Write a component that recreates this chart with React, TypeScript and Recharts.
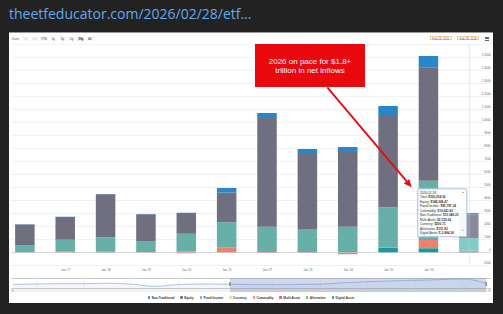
import { Area, AreaChart, Bar, BarChart, CartesianGrid, Cell, ReferenceLine, Tooltip, XAxis, YAxis } from 'recharts';

// yearly net flows, $ millions (2026 = YTD)
const periods = [
  '2015-12-31', '2016-12-31', '2017-12-31', '2018-12-31', '2019-12-31', '2020-12-31',
  '2021-12-31', '2022-12-31', '2023-12-31', '2024-12-31', '2025-12-31', '2026-02-28',
];
const xTickLabels = ["Jan '17", "Jan '18", "Jan '19", "Jan '20", "Jan '21", "Jan '22", "Jan '23", "Jan '24", "Jan '25", "Jan '26"];

const nonTraditional = [2000, 2000, 2000, 2000, 2000, 35000, 38000, 30000, 39000, 69000, 90000, 10548.2];
const equity = [161000, 175000, 331000, 206000, 160000, 229000, 836000, 585000, 574000, 710000, 868000, 184268.47];
const fixedIncome = [52000, 88000, 112000, 85000, 135000, 192000, 195000, 178000, 198000, 310000, 456000, 95797.34];
const currency = [0, 0, 0, 0, 0, 0, 0, 0, 0, 0, 0, 200.71];
const commodity = [0, 10000, 0, 3000, 9000, 40000, 3000, 2000, -14000, 2000, 61000, 10641.82];
const multiAsset = [2000, 0, 3000, 0, -6000, 0, -4000, -3000, 0, 0, 0, 2530.54];
const alternative = [0, 0, 2000, 0, 0, 0, 0, 0, 0, 0, 3000, 151.82];
const digitalAsset = [0, 0, 0, 0, 0, 0, 0, 0, 0, 35000, 32000, -3884.34];

const yTicks = [
  -100000, 0, 100000, 200000, 300000, 400000, 500000, 600000, 700000, 800000,
  900000, 1000000, 1100000, 1200000, 1300000, 1400000, 1500000, 1600000,
];

// navigator strip (relative level)
const navigatorValues = [4.6, 5.0, 5.3, 5.3, 5.8, 4.8, 2.6, 4.5, 5.0, 4.8, 4.6, 4.6, 4.6, 4.8, 6.3, 7.3, 8.1, 8.7, 9.3, 10.0, 6.0];
const navigatorTicks = [1, 3, 5, 7, 9, 11, 13, 15, 17, 19];
const navigatorTickLabels = ["Jan '08", "Jan '10", "Jan '12", "Jan '14", "Jan '16", "Jan '18", "Jan '20", "Jan '22", "Jan '24", "Jan '26"];

const rangeButtons = ['1m', '3m', 'YTD', '1y', '3y', '5y', '10y', 'All'];

const series = [
  { key: 'nonTraditional', name: 'Non-Traditional', values: nonTraditional, color: '#2b86c8', hover: '#3f9be0' },
  { key: 'equity', name: 'Equity', values: equity, color: '#6f6f80', hover: '#8a8a9c' },
  { key: 'fixedIncome', name: 'Fixed Income', values: fixedIncome, color: '#66b0a8', hover: '#80ccc7' },
  { key: 'currency', name: 'Currency', values: currency, color: '#f3e16b', hover: '#f7ea8c' },
  { key: 'commodity', name: 'Commodity', values: commodity, color: '#ef8170', hover: '#f49585' },
  { key: 'multiAsset', name: 'Multi-Asset', values: multiAsset, color: '#d9529a', hover: '#e36eac' },
  { key: 'alternative', name: 'Alternative', values: alternative, color: '#58c85a', hover: '#70d872' },
  { key: 'digitalAsset', name: 'Digital Asset', values: digitalAsset, color: '#1f95a5', hover: '#35aab9' },
];

const rows = periods.map((period, i) => {
  const row: Record<string, any> = { idx: i, period };
  series.forEach((s) => { row[s.key] = s.values[i]; });
  return row;
});
const navRows = navigatorValues.map((v, i) => ({ i, v }));

const FONT = '"Liberation Sans", Arial, Helvetica, sans-serif';
const hoverIndex = 11;

function money(v: number) {
  return '$' + v.toLocaleString('en-US', { minimumFractionDigits: 2, maximumFractionDigits: 2 });
}

function yLabel(v: number) {
  if (v === 0) return '0';
  return (v / 1000).toLocaleString('en-US') + 'k';
}

function YTick({ y, payload }: any) {
  if (payload.value === 1600000) return <g />;
  return (
    <text x={479.5} y={y - 2.2} textAnchor="end" dominantBaseline="central" fontSize={2.9} fill="#666" fontFamily={FONT}>
      {yLabel(payload.value)}
    </text>
  );
}

function XTick({ x, payload }: any) {
  return (
    <text x={x} y={230} textAnchor="middle" dominantBaseline="central" fontSize={2.9} fill="#666" fontFamily={FONT}>
      {xTickLabels[payload.value - 1]}
    </text>
  );
}

function NavTick({ x, payload }: any) {
  const k = navigatorTicks.indexOf(payload.value);
  return (
    <text x={x + 1.2} y={6.7} textAnchor="start" dominantBaseline="central" fontSize={2.8} fill="#999" fontFamily={FONT}>
      {navigatorTickLabels[k]}
    </text>
  );
}

function TipBox({ active, payload }: any) {
  if (!active || !payload || !payload.length) return null;
  const row = payload[0].payload;
  const items = series
    .map((s) => ({ name: s.name, value: row[s.key] as number }))
    .sort((a, b) => b.value - a.value);
  const total = items.reduce((t, it) => t + it.value, 0);
  return (
    <div
      style={{
        position: 'relative', width: 50, height: 49.4, boxSizing: 'border-box',
        background: 'rgba(255,255,255,0.93)', border: '0.5px solid #a7c3e2', borderRadius: 1,
        fontFamily: FONT, fontSize: 3.1, lineHeight: '4.5px', color: '#333', padding: '1.7px 0 0 1.8px',
        whiteSpace: 'nowrap',
      }}
    >
      <div>{row.period}</div>
      <div>Total: <b>{money(total)}</b></div>
      {items.map((it) => (
        <div key={it.name}>{it.name}: <b>{money(it.value)}</b></div>
      ))}
      <span style={{ position: 'absolute', right: 2, top: 2, fontSize: 2.4, color: '#666' }}>▲</span>
      <span style={{ position: 'absolute', right: 2.4, bottom: 3, fontSize: 2.4, color: '#666' }}>▼</span>
    </div>
  );
}

export default function App() {
  const stackOrder = [...series].reverse();
  return (
    <div style={{ position: 'fixed', left: 0, top: 0, width: 503, height: 314, background: '#222', overflow: 'hidden', fontFamily: FONT }}>
      <div style={{ position: 'absolute', left: 9, top: 3.5, fontFamily: '"Open Sans", sans-serif', fontSize: 14, lineHeight: '19px', color: '#62a9ef', whiteSpace: 'nowrap' }}>
        theetfeducator.com/2026/02/28/etf…
      </div>

      <div style={{ position: 'absolute', left: 9, top: 32, width: 484, height: 271, background: '#fff', borderTop: '1px solid #9a9a9a', boxSizing: 'border-box' }} />

      {/* range selector */}
      <div style={{ position: 'absolute', left: 11.7, top: 36.7, height: 4.4, lineHeight: '4.4px', fontSize: 3, color: '#666' }}>Zoom</div>
      {rangeButtons.map((b, i) => (
        <div
          key={b}
          style={{
            position: 'absolute', left: 22 + i * 9.2, top: 36.7, width: 7.3, height: 4.4, lineHeight: '4.4px',
            textAlign: 'center', fontSize: 3, borderRadius: 0.6,
            background: b === '10y' ? '#e6ebf5' : '#f7f7f7',
            color: i < 2 ? '#cccccc' : b === '10y' ? '#000' : '#333',
            fontWeight: b === '10y' ? 'bold' : 'normal',
          }}
        >
          {b}
        </div>
      ))}
      <div style={{ position: 'absolute', left: 430, top: 36, width: 21.7, height: 4.4, lineHeight: '4.2px', border: '0.5px solid #f2cf9a', boxSizing: 'border-box', fontSize: 2.9, textAlign: 'center', color: '#5a6d90' }}>Feb 28, 2015</div>
      <div style={{ position: 'absolute', left: 452.5, top: 36, width: 4, height: 4.4, lineHeight: '4.4px', fontSize: 2.9, textAlign: 'center', color: '#666' }}>→</div>
      <div style={{ position: 'absolute', left: 457.3, top: 36, width: 21.7, height: 4.4, lineHeight: '4.2px', border: '0.5px solid #f2cf9a', boxSizing: 'border-box', fontSize: 2.9, textAlign: 'center', color: '#5a6d90' }}>Feb 28, 2026</div>
      {[36.8, 38.2, 39.6].map((t) => (
        <div key={t} style={{ position: 'absolute', left: 484.5, top: t, width: 4, height: 0.7, background: '#666' }} />
      ))}

      {/* main chart */}
      <div style={{ position: 'absolute', left: 11, top: 40 }}>
        <BarChart width={480} height={240} data={rows} stackOffset="sign" barSize={19.5} margin={{ top: 4.3, right: 0, bottom: 0, left: 0 }}>
          <CartesianGrid vertical={false} stroke="#e8e8e8" strokeWidth={0.6} />
          <XAxis
            type="number" dataKey="idx" domain={[-0.354, 11.539]} allowDataOverflow ticks={[1, 2, 3, 4, 5, 6, 7, 8, 9, 10]}
            height={14.5} axisLine={false} tickLine={false} tick={<XTick />} interval={0}
          />
          <YAxis
            orientation="right" mirror width={1} domain={[-100000, 1600000]} allowDataOverflow ticks={yTicks}
            axisLine={false} tickLine={false} tick={<YTick />} interval={0}
          />
          <ReferenceLine x={hoverIndex} stroke="#cccccc" strokeWidth={0.5} />
          <ReferenceLine y={0} stroke="#c4c4c4" strokeWidth={0.6} />
          {stackOrder.map((s) => (
            <Bar key={s.key} dataKey={s.key} name={s.name} stackId="flows" fill={s.color} isAnimationActive={false}>
              {rows.map((_, i) => (
                <Cell key={i} fill={i === hoverIndex ? s.hover : s.color} />
              ))}
            </Bar>
          ))}
          <Tooltip
            content={<TipBox />} defaultIndex={hoverIndex} active cursor={false}
            position={{ x: 406.3, y: 148.3 }} isAnimationActive={false} allowEscapeViewBox={{ x: true, y: true }}
          />
        </BarChart>
      </div>

      {/* annotation */}
      <div style={{ position: 'absolute', left: 255, top: 44, width: 110, height: 43.3, background: '#e8080e', color: '#fff', fontSize: 8, lineHeight: '9px', textAlign: 'center', display: 'flex', flexDirection: 'column', justifyContent: 'center', paddingTop: 1, boxSizing: 'border-box' }}>
        <div>2026 on pace for $1.8+</div>
        <div>trillion in net inflows</div>
      </div>
      <svg width={503} height={314} style={{ position: 'absolute', left: 0, top: 0, pointerEvents: 'none' }}>
        <line x1={327.3} y1={87.3} x2={406.5} y2={181.2} stroke="#e8080e" strokeWidth={1.8} />
        <polygon points="411.7,187.3 403.8,183.5 409.2,178.9" fill="#e8080e" />
      </svg>

      {/* navigator */}
      <div style={{ position: 'absolute', left: 11, top: 278.3, width: 480, height: 11, borderTop: '0.5px solid #cccccc', borderBottom: '0.5px solid #cccccc', boxSizing: 'border-box' }} />
      <div style={{ position: 'absolute', left: 13, top: 278.3 }}>
        <AreaChart width={473} height={11} data={navRows} margin={{ top: 0, right: 0, bottom: 0, left: 0 }}>
          <CartesianGrid horizontal={false} stroke="#e6e6e6" strokeWidth={0.5} />
          <XAxis type="number" dataKey="i" domain={[0, 20]} ticks={navigatorTicks} orientation="top" height={0} axisLine={false} tickLine={false} tick={<NavTick />} interval={0} />
          <YAxis hide domain={[0, 11]} />
          <Area type="monotone" dataKey="v" stroke="#7a9ed6" strokeWidth={0.6} fill="#335cad" fillOpacity={0.05} isAnimationActive={false} dot={false} />
        </AreaChart>
      </div>
      <div style={{ position: 'absolute', left: 230, top: 278.3, width: 256, height: 11, background: 'rgba(102,133,194,0.3)' }} />
      {[230, 486].map((x) => (
        <div key={x} style={{ position: 'absolute', left: x - 1.2, top: 281.8, width: 2.4, height: 4, background: '#f2f2f2', border: '0.3px solid #999', boxSizing: 'border-box' }} />
      ))}

      {/* scrollbar */}
      <div style={{ position: 'absolute', left: 11, top: 289.3, width: 480, height: 3, background: '#f2f2f2' }} />
      <div style={{ position: 'absolute', left: 230, top: 289.3, width: 256, height: 3, background: '#cccccc' }} />
      <div style={{ position: 'absolute', left: 11, top: 289.3, width: 3, height: 3, background: '#e6e6e6', fontSize: 2.2, lineHeight: '3px', textAlign: 'center', color: '#333' }}>◂</div>
      <div style={{ position: 'absolute', left: 488, top: 289.3, width: 3, height: 3, background: '#e6e6e6', fontSize: 2.2, lineHeight: '3px', textAlign: 'center', color: '#333' }}>▸</div>

      {/* legend */}
      <div style={{ position: 'absolute', left: 9, top: 295.5, width: 484, height: 4, display: 'flex', justifyContent: 'center', alignItems: 'center', gap: 5.8 }}>
        {series.map((s) => (
          <div key={s.key} style={{ display: 'flex', alignItems: 'center', fontSize: 3.1, fontWeight: 'bold', color: '#333', whiteSpace: 'nowrap' }}>
            <span style={{ display: 'inline-block', width: 2.5, height: 2.5, borderRadius: '50%', background: s.color, marginRight: 1.5 }} />
            {s.name}
          </div>
        ))}
      </div>
    </div>
  );
}
